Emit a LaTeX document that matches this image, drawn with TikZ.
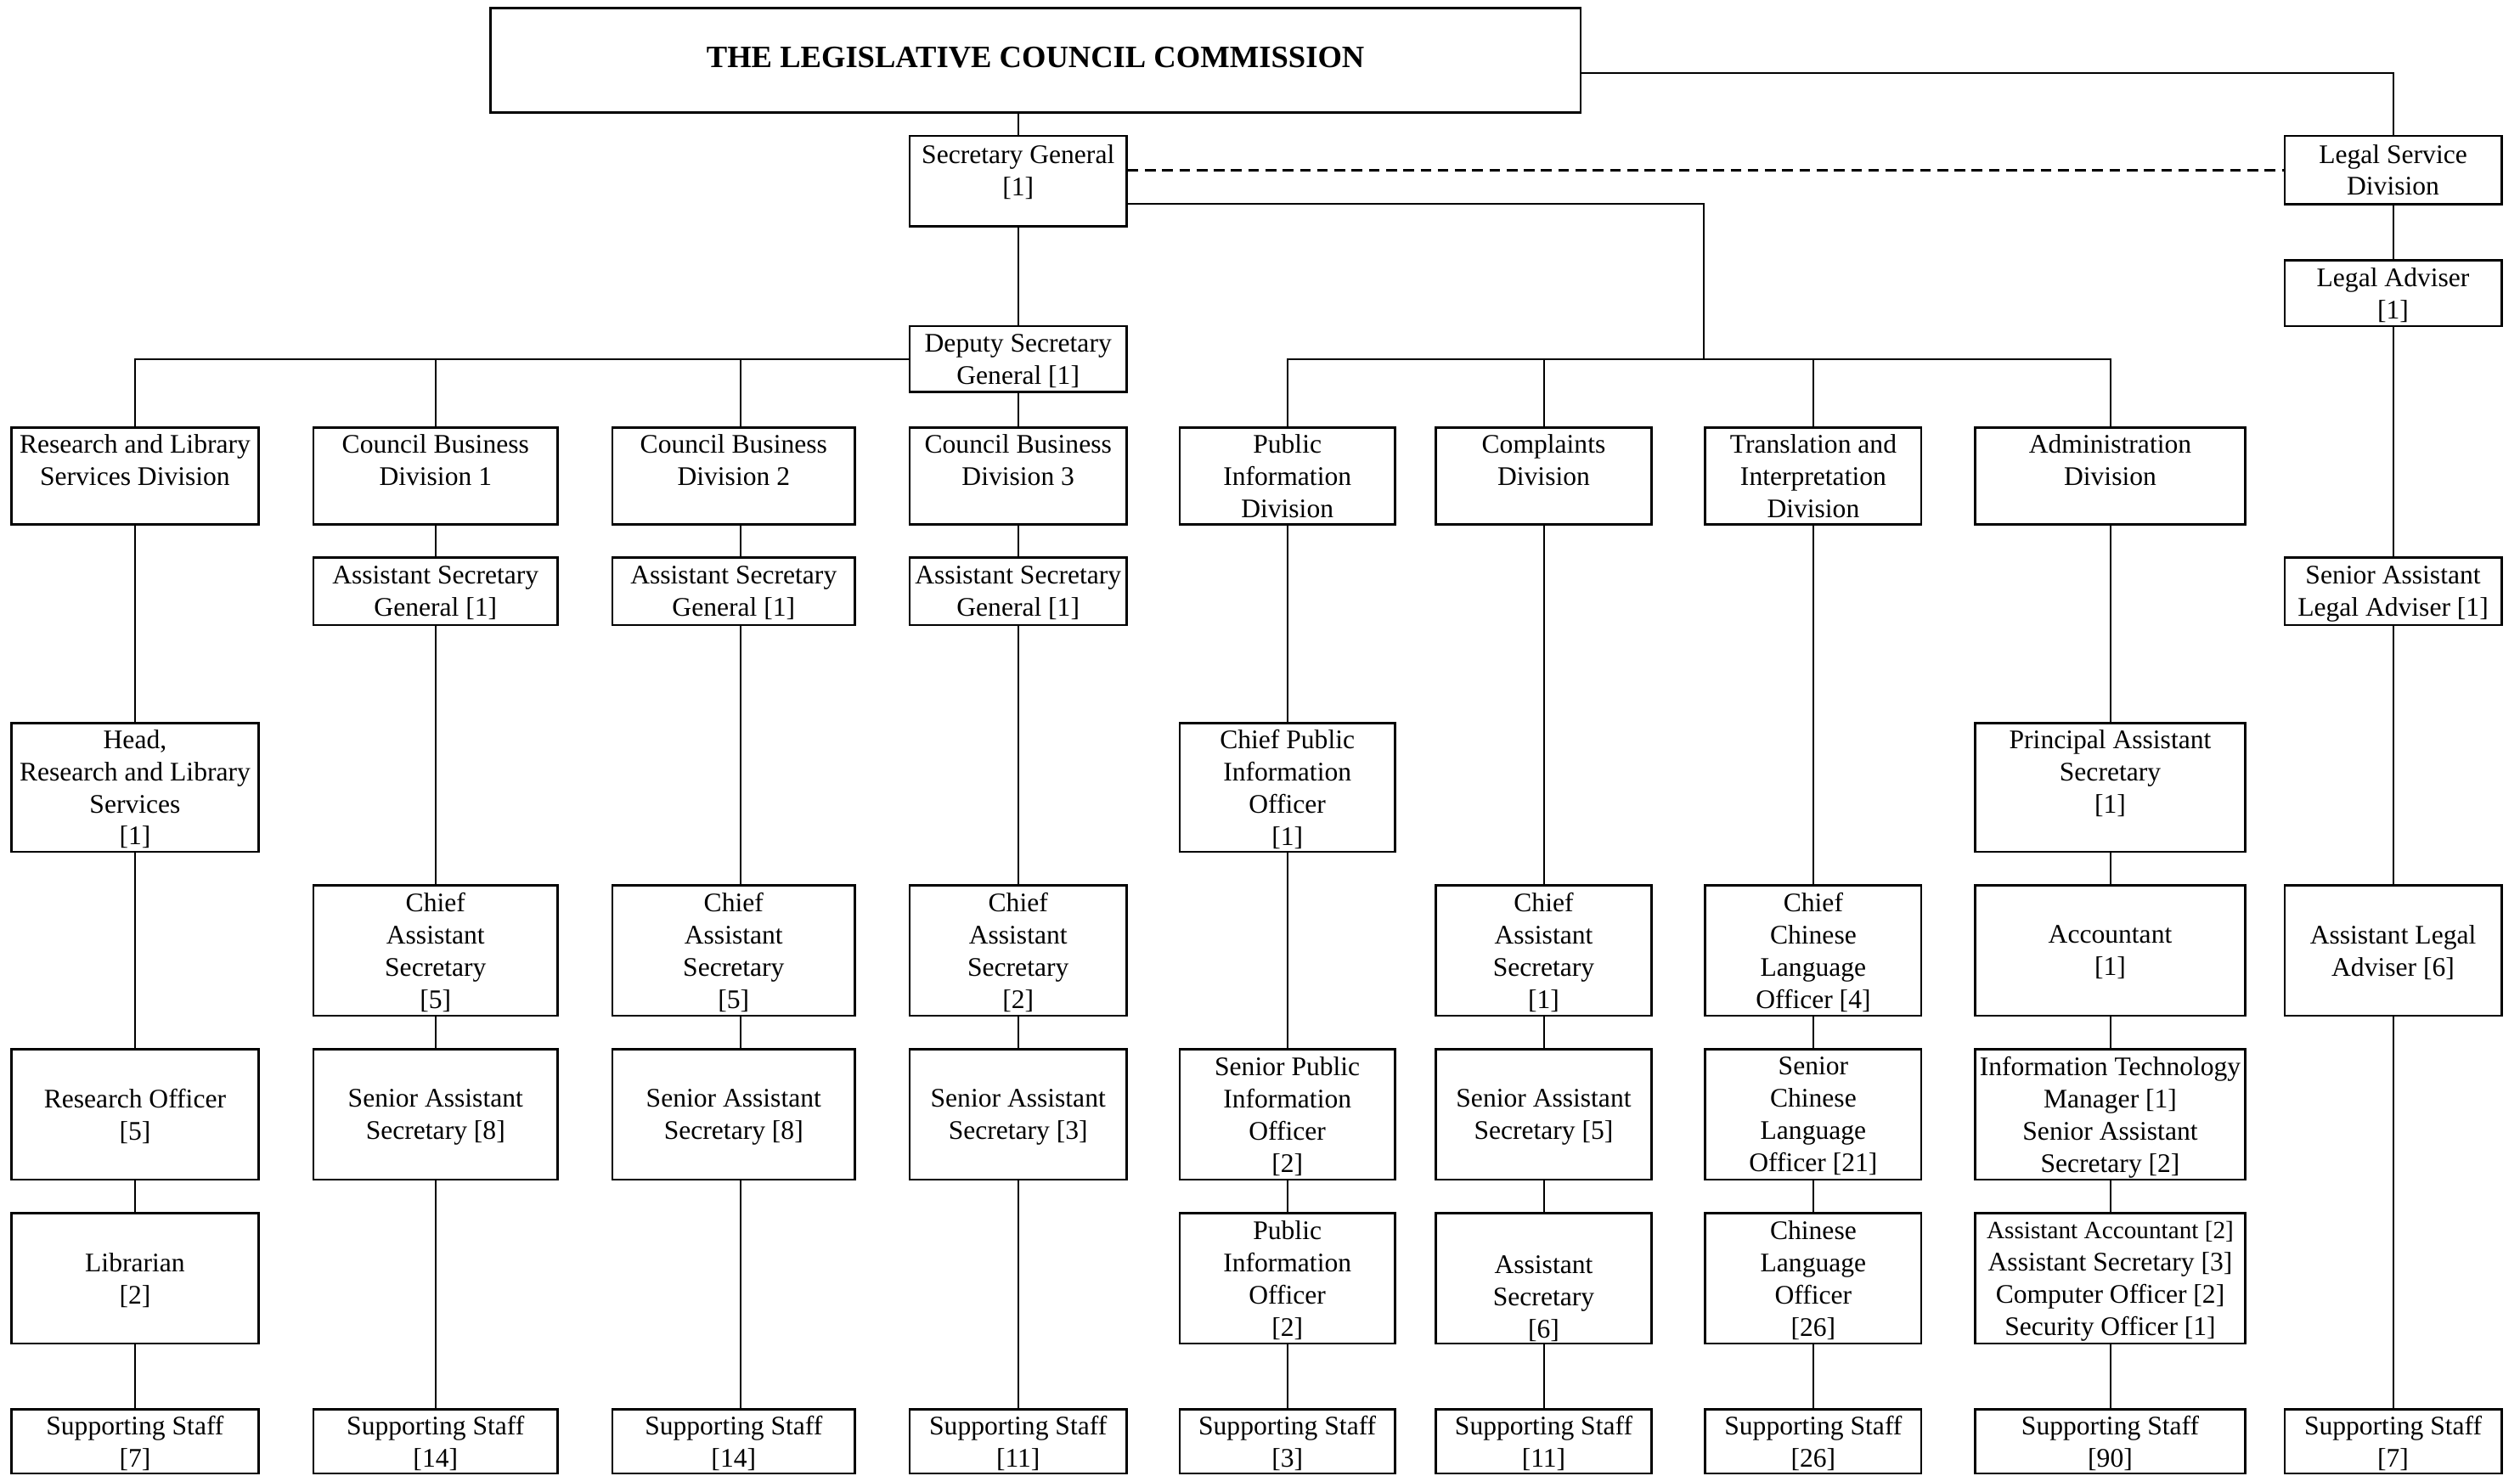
\documentclass[tikz,border=0pt]{standalone}
\usepackage{fontspec}
\setmainfont{Liberation Serif}
\begin{document}
\begin{tikzpicture}[x=0.02cm,y=-0.02cm,font=\fontsize{9.5}{11.4}\selectfont,
    box/.style={draw,line width=0.8pt,align=center,inner sep=0pt,text depth=0pt},
    link/.style={line width=0.6pt},
    rdiv/.style={minimum height=1.21cm},
    rlow/.style={minimum height=0.84cm},
    rtall/.style={minimum height=1.62cm},
    rstaff/.style={minimum height=0.80cm}]

\useasboundingbox (0,0) rectangle (1568,918);

% commission, secretary general, legal service
\node[draw,line width=0.8pt,inner sep=0pt,text depth=2.4pt,minimum width=13.57cm,minimum height=1.30cm,font=\fontsize{11}{13}\selectfont\bfseries] (title) at (644.3,37.5) {THE LEGISLATIVE COUNCIL COMMISSION};
\node[box,minimum width=2.70cm,minimum height=1.13cm] (secgen) at (633.5,112.75) {Secretary General\\{}[1]\\[-3.5pt]\mbox{}};
\node[box,minimum width=2.70cm,minimum height=0.82cm] (depsg) at (633.5,223.5) {Deputy Secretary\\General [1]};
\node[box,minimum width=2.70cm,minimum height=0.85cm] (legalsvc) at (1489,105.75) {Legal Service\\Division};
\node[box,minimum width=2.70cm,minimum height=0.82cm] (legaladv) at (1489,182.5) {Legal Adviser\\{}[1]};

% divisions
\node[box,minimum width=3.08cm,rdiv] (rlsd) at (84,296.25) {Research and Library\\Services Division\\\mbox{}};
\node[box,minimum width=3.04cm,rdiv] (cbd1) at (271,296.25) {Council Business\\Division 1\\\mbox{}};
\node[box,minimum width=3.02cm,rdiv] (cbd2) at (456.5,296.25) {Council Business\\Division 2\\\mbox{}};
\node[box,minimum width=2.70cm,rdiv] (cbd3) at (633.5,296.25) {Council Business\\Division 3\\\mbox{}};
\node[box,minimum width=2.68cm,rdiv] (pid) at (801,296.25) {Public\\Information\\Division};
\node[box,minimum width=2.68cm,rdiv] (cd) at (960.5,296.25) {Complaints\\Division\\\mbox{}};
\node[box,minimum width=2.69cm,rdiv] (tid) at (1128.25,296.25) {Translation and\\Interpretation\\Division};
\node[box,minimum width=3.36cm,rdiv] (ad) at (1313,296.25) {Administration\\Division\\\mbox{}};

% assistant secretary general row
\node[box,minimum width=3.04cm,rlow] (asg1) at (271,368) {Assistant Secretary\\General [1]};
\node[box,minimum width=3.02cm,rlow] (asg2) at (456.5,368) {Assistant Secretary\\General [1]};
\node[box,minimum width=2.70cm,rlow] (asg3) at (633.5,368) {Assistant Secretary\\General [1]};
\node[box,minimum width=2.70cm,rlow] (sala) at (1489,368) {Senior Assistant\\Legal Adviser [1]};

% heads
\node[box,minimum width=3.08cm,minimum height=1.60cm] (headrl) at (84,490) {Head,\\Research and Library\\Services\\{}[1]};
\node[box,minimum width=2.68cm,minimum height=1.60cm] (cpio) at (801,490) {Chief Public\\Information\\Officer\\{}[1]};
\node[box,minimum width=3.36cm,minimum height=1.60cm] (pas) at (1313,490) {Principal Assistant\\Secretary\\{}[1]\\\mbox{}};

% chiefs
\node[box,minimum width=3.04cm,rtall] (cas1) at (271,591.5) {Chief\\Assistant\\Secretary\\{}[5]};
\node[box,minimum width=3.02cm,rtall] (cas2) at (456.5,591.5) {Chief\\Assistant\\Secretary\\{}[5]};
\node[box,minimum width=2.70cm,rtall] (cas3) at (633.5,591.5) {Chief\\Assistant\\Secretary\\{}[2]};
\node[box,minimum width=2.68cm,rtall] (cas4) at (960.5,591.5) {Chief\\Assistant\\Secretary\\{}[1]};
\node[box,minimum width=2.69cm,rtall] (cclo) at (1128.25,591.5) {Chief\\Chinese\\Language\\Officer [4]};
\node[box,minimum width=3.36cm,rtall] (acct) at (1313,591.5) {Accountant\\{}[1]};
\node[box,minimum width=2.70cm,rtall] (ala) at (1489,591.5) {Assistant Legal\\Adviser [6]};

% seniors
\node[box,minimum width=3.08cm,rtall] (resoff) at (84,693.5) {Research Officer\\{}[5]};
\node[box,minimum width=3.04cm,rtall] (sas1) at (271,693.5) {Senior Assistant\\Secretary [8]};
\node[box,minimum width=3.02cm,rtall] (sas2) at (456.5,693.5) {Senior Assistant\\Secretary [8]};
\node[box,minimum width=2.70cm,rtall] (sas3) at (633.5,693.5) {Senior Assistant\\Secretary [3]};
\node[box,minimum width=2.68cm,rtall] (spio) at (801,693.5) {Senior Public\\Information\\Officer\\{}[2]};
\node[box,minimum width=2.68cm,rtall] (sas4) at (960.5,693.5) {Senior Assistant\\Secretary [5]};
\node[box,minimum width=2.69cm,rtall] (sclo) at (1128.25,693.5) {Senior\\Chinese\\Language\\Officer [21]};
\node[box,minimum width=3.36cm,rtall] (itm) at (1313,693.5) {Information Technology\\Manager [1]\\Senior Assistant\\Secretary [2]};

% third row
\node[box,minimum width=3.08cm,rtall] (libr) at (84,795.5) {Librarian\\{}[2]};
\node[box,minimum width=2.68cm,rtall] (pio) at (801,795.5) {Public\\Information\\Officer\\{}[2]};
\node[box,minimum width=2.68cm,rtall] (asec) at (960.5,795.5) {\strut\\Assistant\\Secretary\\{}[6]};
\node[box,minimum width=2.69cm,rtall] (clo) at (1128.25,795.5) {Chinese\\Language\\Officer\\{}[26]};
\node[box,minimum width=3.36cm,rtall] (acc2) at (1313,795.5) {{\fontsize{8.8}{11.4}\selectfont Assistant Accountant [2]}\\Assistant Secretary [3]\\Computer Officer [2]\\Security Officer [1]};

% supporting staff
\foreach \n/\x/\w/\k in {ss1/84/3.08/7,ss2/271/3.04/14,ss3/456.5/3.02/14,ss4/633.5/2.70/11,
    ss5/801/2.68/3,ss6/960.5/2.68/11,ss7/1128.25/2.69/26,ss8/1313/3.36/90,ss9/1489/2.70/7}{
    \node[box,minimum width=\w cm,rstaff] (\n) at (\x,897) {Supporting Staff\\{}[\k]};
}

% top links
\draw[link] (title.south -| secgen.north) -- (secgen.north);
\draw[link] ([yshift=-0.16cm]title.east) -| (legalsvc.north);
\draw[line width=0.9pt,dash pattern=on 3.8pt off 2.3pt] (secgen.east |- legalsvc.west) -- (legalsvc.west);
\draw[link] (secgen) -- (depsg);
\draw[link] ([yshift=-0.28cm]secgen.east) -| ([yshift=0.84cm]tid.north west);
\draw[link] (depsg.west) -| (rlsd.north);
\draw[link] (cbd1.north) -- ++(0,-42);
\draw[link] ([xshift=0.09cm]cbd2.north) -- ++(0,-42);
\draw[link] (depsg) -- (cbd3);
\draw[link] (pid.north) -- ++(0,-42) -| (ad.north);
\draw[link] (cd.north) -- ++(0,-42);
\draw[link] (tid.north) -- ++(0,-42);

% columns
\foreach \a/\b in {rlsd/headrl,headrl/resoff,resoff/libr,libr/ss1,
    cbd1/asg1,asg1/cas1,cas1/sas1,sas1/ss2,
    cbd3/asg3,asg3/cas3,cas3/sas3,sas3/ss4,
    pid/cpio,cpio/spio,spio/pio,pio/ss5,
    cd/cas4,cas4/sas4,sas4/asec,asec/ss6,
    tid/cclo,cclo/sclo,sclo/clo,clo/ss7,
    ad/pas,pas/acct,acct/itm,itm/acc2,acc2/ss8,
    legalsvc/legaladv,legaladv/sala,sala/ala,ala/ss9}{
    \draw[link] (\a) -- (\b);
}
\foreach \a/\b in {cbd2/asg2,asg2/cas2,cas2/sas2,sas2/ss3}{
    \draw[link] ([xshift=0.09cm]\a.south) -- ([xshift=0.09cm]\b.north);
}
\end{tikzpicture}
\end{document}
